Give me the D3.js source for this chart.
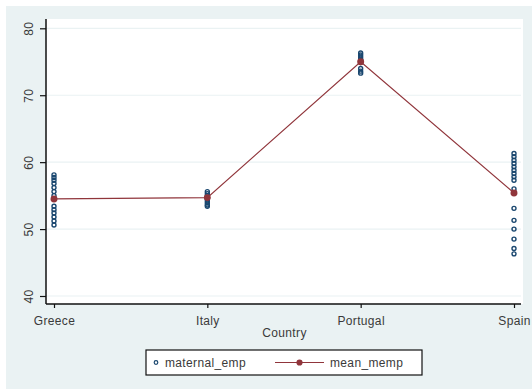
<!DOCTYPE html>
<html>
<head>
<meta charset="utf-8">
<script src="https://cdn.jsdelivr.net/npm/d3@7"></script>
<style>
  html, body { margin: 0; padding: 0; background: #ffffff; }
  svg text { font-family: "Liberation Sans", Arial, sans-serif; fill: #3a3a3a; letter-spacing: 0.35px; }
</style>
</head>
<body>
<svg id="chart" width="532" height="390"></svg>
<script>
const countries = ["Greece", "Italy", "Portugal", "Spain"];
const greeceEmp = [58.1, 57.7, 57.3, 56.8, 56.2, 55.6, 55.0, 53.4, 52.9, 52.4, 51.8, 51.2, 50.6];
const italyEmp = [55.6, 55.3, 55.0, 54.8, 54.5, 54.2, 53.9, 53.6, 53.4];
const portugalEmp = [76.3, 76.0, 75.7, 75.4, 75.2, 74.9, 74.0, 73.6, 73.3];
const spainEmp = [61.3, 60.8, 60.3, 59.8, 59.3, 58.8, 58.3, 57.8, 57.3, 56.0, 53.1, 51.3, 50.0, 48.5, 47.1, 46.3];
const meanMemp = [54.5, 54.7, 75.0, 55.4];
const yTicks = [40, 50, 60, 70, 80];
const legendLabels = ["maternal_emp", "mean_memp"];

const empByCountry = [greeceEmp, italyEmp, portugalEmp, spainEmp];
const navy = "#1a476f", maroon = "#90353b", bg = "#eaf2f3";

const svg = d3.select("#chart");
svg.append("rect").attr("x", 6).attr("y", 6).attr("width", 526).attr("height", 383).attr("fill", bg);
const plot = { left: 46, right: 523, top: 19, bottom: 304 };
svg.append("rect").attr("x", plot.left).attr("y", plot.top)
  .attr("width", plot.right - plot.left).attr("height", plot.bottom - plot.top).attr("fill", "#ffffff");

const x = d3.scalePoint().domain(countries).range([54, 514]);
const y = d3.scaleLinear().domain([40, 80]).range([296, 28.3]);

svg.append("g").selectAll("line").data(yTicks).join("line")
  .attr("x1", plot.left).attr("x2", plot.right - 2)
  .attr("y1", d => y(d)).attr("y2", d => y(d))
  .attr("stroke", bg).attr("stroke-width", 1.2);

const yAxis = svg.append("g").attr("transform", `translate(${plot.left},0)`)
  .call(d3.axisLeft(y).tickValues(yTicks).tickSize(6).tickPadding(0).tickFormat(d3.format("d")));
yAxis.select(".domain").attr("d", `M0,${plot.top}V${plot.bottom}`).attr("stroke", "#111").attr("stroke-width", 1.5);
yAxis.selectAll(".tick line").attr("stroke", "#111").attr("stroke-width", 1.2);
yAxis.selectAll(".tick text")
  .attr("x", 0).attr("dy", null)
  .attr("transform", "translate(-16,0) rotate(-90)")
  .attr("text-anchor", "middle")
  .attr("dominant-baseline", "middle")
  .style("font-size", "12px");

const xAxis = svg.append("g").attr("transform", `translate(0,${plot.bottom})`)
  .call(d3.axisBottom(x).tickSize(4).tickPadding(8));
xAxis.select(".domain").attr("d", `M${plot.left},0H${plot.right - 2}`).attr("stroke", "#111").attr("stroke-width", 1.5);
xAxis.selectAll(".tick line").attr("stroke", "#111").attr("stroke-width", 1.2);
xAxis.selectAll(".tick text").style("font-size", "12px").attr("text-anchor", "middle");

svg.append("text").attr("x", (plot.left + plot.right) / 2).attr("y", 337)
  .attr("text-anchor", "middle").style("font-size", "12px").text("Country");

const pts = [];
empByCountry.forEach((arr, i) => arr.forEach(v => pts.push({ c: countries[i], v })));
svg.append("g").selectAll("circle").data(pts).join("circle")
  .attr("cx", d => x(d.c)).attr("cy", d => y(d.v)).attr("r", 2)
  .attr("fill", "none").attr("stroke", navy).attr("stroke-width", 1.4);

const meanData = countries.map((c, i) => ({ c, v: meanMemp[i] }));
svg.append("path").datum(meanData)
  .attr("d", d3.line().x(d => x(d.c)).y(d => y(d.v)))
  .attr("fill", "none").attr("stroke", maroon).attr("stroke-width", 1.2);
svg.append("g").selectAll("path").data(meanData).join("path")
  .attr("transform", d => `translate(${x(d.c)},${y(d.v)})`)
  .attr("d", d3.symbol(d3.symbolCircle, 38))
  .attr("fill", maroon);

const lg = svg.append("g");
lg.append("rect").attr("x", 146).attr("y", 350).attr("width", 276).attr("height", 25)
  .attr("fill", "#ffffff").attr("stroke", "#111").attr("stroke-width", 1.2);
lg.append("circle").attr("cx", 156).attr("cy", 362.5).attr("r", 1.8)
  .attr("fill", "none").attr("stroke", navy).attr("stroke-width", 1.2);
lg.append("text").attr("x", 165).attr("y", 366.5).style("font-size", "12px").text(legendLabels[0]);
lg.append("line").attr("x1", 275).attr("x2", 324).attr("y1", 362.5).attr("y2", 362.5)
  .attr("stroke", maroon).attr("stroke-width", 1.2);
lg.append("path").attr("transform", "translate(299.5,362.5)")
  .attr("d", d3.symbol(d3.symbolCircle, 30)).attr("fill", maroon);
lg.append("text").attr("x", 330).attr("y", 366.5).style("font-size", "12px").text(legendLabels[1]);
</script>
</body>
</html>
